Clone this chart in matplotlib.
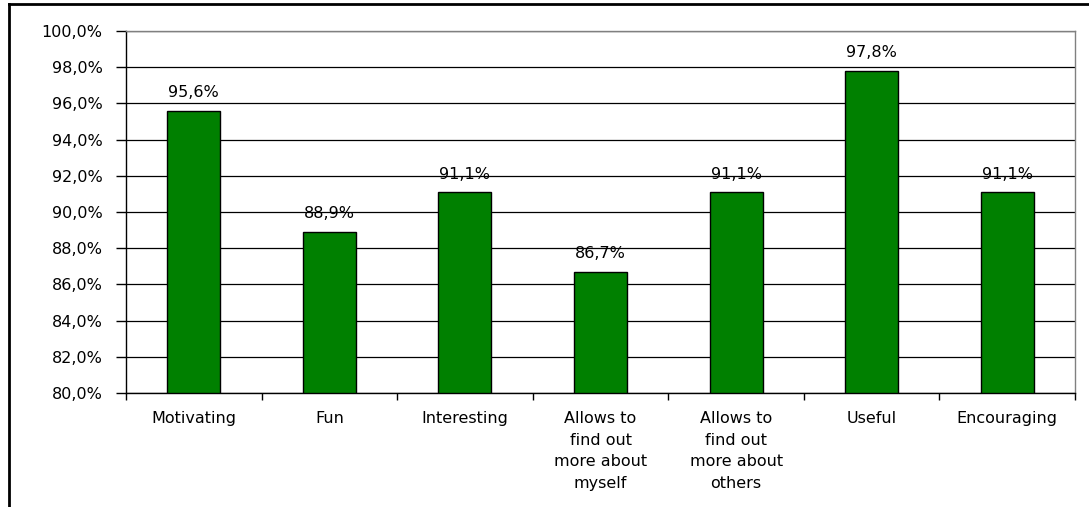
import matplotlib
matplotlib.use("Agg")
import matplotlib.pyplot as plt
from matplotlib.lines import Line2D

categories = ["Motivating", "Fun", "Interesting", "Allows to\nfind out\nmore about\nmyself",
              "Allows to\nfind out\nmore about\nothers", "Useful", "Encouraging"]
values = [95.6, 88.9, 91.1, 86.7, 91.1, 97.8, 91.1]
yticks = [80, 82, 84, 86, 88, 90, 92, 94, 96, 98, 100]

plt.rcParams['font.family'] = ['DejaVu Sans']
FS = 11.5

fig = plt.figure(figsize=(10.89, 5.07), dpi=100)
ax = fig.add_axes([126/1089, 1-393/507, (1075-126)/1089, (393-31)/507])

x = list(range(len(categories)))
ax.bar(x, [v - 80 for v in values], bottom=80, width=0.39, color='#008000',
       edgecolor='black', linewidth=1.0, zorder=3)
for xi, v in zip(x, values):
    ax.text(xi, v + 0.75, f"{v:.1f}%".replace('.', ','), ha='center', va='baseline',
            fontsize=FS, zorder=4)

ax.set_xlim(-0.5, len(categories) - 0.5)
ax.set_ylim(80, 100)
ax.set_yticks(yticks)
ax.set_yticklabels([f"{t:.1f}%".replace('.', ',') for t in yticks], fontsize=FS)
ax.yaxis.grid(True, color='black', linewidth=0.9, zorder=0)
ax.set_axisbelow(True)

ax.set_xticks(x)
ax.set_xticklabels(categories, fontsize=FS, linespacing=1.55)
ax.tick_params(axis='x', length=0, pad=13)
ax.tick_params(axis='y', length=7, direction='out', pad=10, width=1)
ax.set_xticks([b - 0.5 for b in range(len(categories) + 1)], minor=True)
ax.tick_params(axis='x', which='minor', length=5, direction='out', width=1)

ax.spines['left'].set_color('black')
ax.spines['bottom'].set_color('black')
ax.spines['top'].set_color('#808080')
ax.spines['right'].set_color('#808080')
for s in ax.spines.values():
    s.set_linewidth(1.0)

# outer frame
fig.add_artist(Line2D([9/1089, 9/1089], [0, 1-4/507], color='black', linewidth=2,
                      transform=fig.transFigure))
fig.add_artist(Line2D([9/1089, 1], [1-4/507, 1-4/507], color='black', linewidth=2,
                      transform=fig.transFigure))

fig.savefig("out.png", dpi=100)
